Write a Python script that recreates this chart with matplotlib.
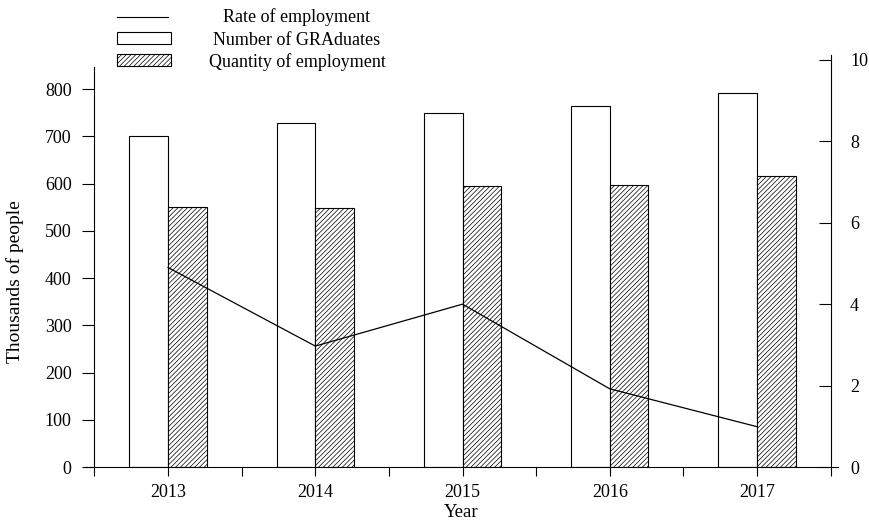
import numpy as np
import matplotlib
matplotlib.use("Agg")
import matplotlib.pyplot as plt
from matplotlib.lines import Line2D
from matplotlib.patches import Rectangle

plt.rcParams['font.family'] = ['Liberation Serif', 'DejaVu Serif']
plt.rcParams['font.size'] = 13
plt.rcParams['hatch.color'] = '#8a8a8a'
plt.rcParams['hatch.linewidth'] = 0.5

# data
years = ['2013', '2014', '2015', '2016', '2017']
graduates = [700, 728, 750, 765, 792]          # thousands of people
employment = [550, 548, 595, 597, 616]         # thousands of people
rate = [4.9, 2.97, 4.0, 1.92, 0.99]            # rate of employment

W, H = 869, 529
fig = plt.figure(figsize=(W / 100, H / 100), dpi=100)


def fx(x):
    return x / W


def fy(y):
    return 1 - y / H


ax = fig.add_axes([fx(85), fy(467), fx(838) - fx(85), fy(55) - fy(467)])
ax2 = ax.twinx()

x = np.arange(len(years))
bw = 0.262

ax.bar(x, graduates, width=-bw, align='edge', color='white', edgecolor='black', linewidth=0.8)
ax.bar(x, employment, width=bw, align='edge', color='white', edgecolor='black',
       linewidth=0.8, hatch='///////')
ax2.plot(x, rate, color='black', linewidth=0.9)

ax.set_xlim(-0.564, 4.55)
ax.set_ylim(0, 872)
ax2.set_ylim(0, 10.12)

# left axis
ax.spines['top'].set_visible(False)
ax.spines['right'].set_visible(False)
ax.spines['left'].set_position(('data', -0.5))
ax.spines['left'].set_bounds(0, 846)
ax.set_yticks(range(0, 801, 100))
ax.tick_params(axis='y', direction='out', length=8.5, width=0.8, pad=8)

# bottom axis
ax.set_xticks(x)
ax.set_xticklabels(years)
ax.set_xticks(np.arange(-0.5, 4.6, 1.0), minor=True)
ax.tick_params(axis='x', which='both', direction='out', length=6.5, width=0.8, pad=6)

# right axis
for s in ['top', 'left', 'bottom']:
    ax2.spines[s].set_visible(False)
ax2.spines['right'].set_position(('data', 4.5))
ax2.set_yticks(range(0, 11, 2))
ax2.tick_params(axis='y', direction='in', length=9, width=0.8, pad=14)

for sp in list(ax.spines.values()) + list(ax2.spines.values()):
    sp.set_linewidth(0.8)

ax.set_ylabel('Thousands of people', fontsize=14)
ax.set_xlabel('Year', fontsize=13.5, labelpad=2)
ax.yaxis.set_label_coords((15 - 85) / 753, 0.45)
ax.yaxis.label.set_va('center')

# legend
fig.add_artist(Line2D([fx(117), fx(168)], [fy(17), fy(17)], transform=fig.transFigure,
                      color='black', linewidth=0.8))
fig.add_artist(Rectangle((fx(117), fy(44)), fx(171) - fx(117), fy(32) - fy(44),
                         transform=fig.transFigure, facecolor='white', edgecolor='black',
                         linewidth=0.8))
fig.add_artist(Rectangle((fx(117), fy(66)), fx(171) - fx(117), fy(54) - fy(66),
                         transform=fig.transFigure, facecolor='white', edgecolor='black',
                         linewidth=0.8, hatch='///////'))
labels = ['Rate of employment', 'Number of GRAduates', 'Quantity of employment']
for lab, ty in zip(labels, [17, 40, 62]):
    fig.text(fx(297), fy(ty), lab, ha='center', va='center')

fig.savefig('out.png', dpi=100)
